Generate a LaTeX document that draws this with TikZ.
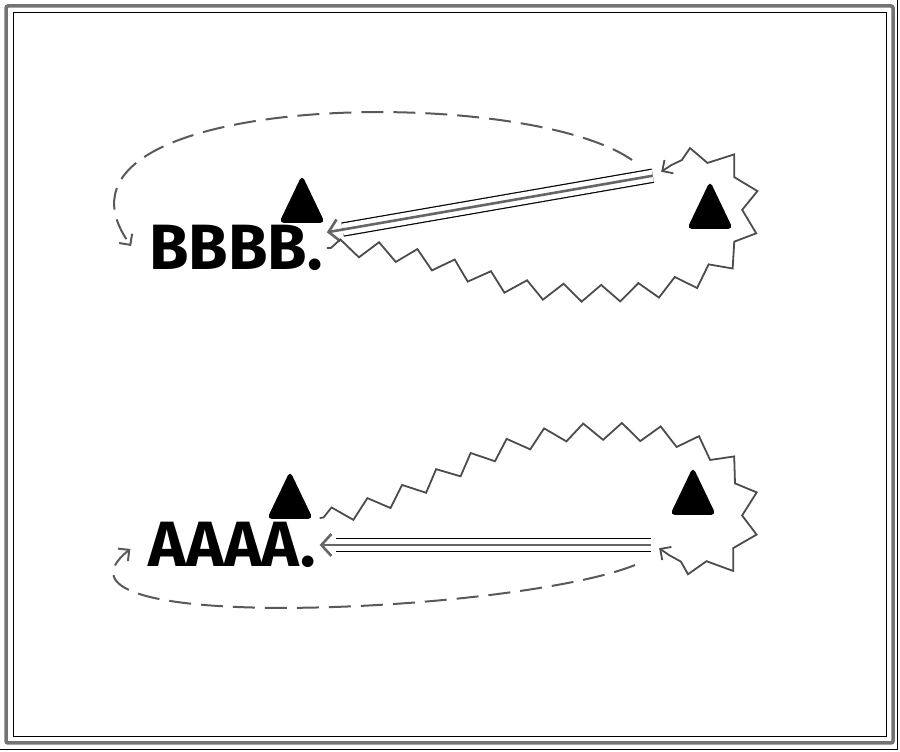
\documentclass[tikz,border=0pt]{standalone}
\usepackage{fontspec}
\setmainfont{Fira Sans}
\usetikzlibrary{decorations.pathmorphing,arrows.meta,calc}
\begin{document}
\begin{tikzpicture}[x=1pt,y=1pt,
  lbl/.style={font=\bfseries\fontsize{64}{64}\selectfont, inner sep=4pt},
  spot/.style={inner sep=4pt},
  tri/.style={fill=black, rounded corners=5pt},
  zz/.style={draw=black!70, line width=1.8pt, decorate,
    decoration={zigzag, segment length=38pt, amplitude=8.5pt, pre length=4pt, post length=12pt},
    -{Straight Barb[length=8pt,width=16pt]}},
  dsh/.style={draw=black!65, line width=2pt, dash pattern=on 22pt off 10pt,
    -{Straight Barb[length=8pt,width=16pt]}},
  mid/.style={draw=black!60, line width=2.6pt, -{Straight Barb[length=10pt,width=22pt]},
    preaction={draw=black, line width=1.2pt, double=white, double distance=12pt, arrows=-, shorten >=16pt}},
  frameout/.style={draw=black!55, line width=3.5pt, rounded corners=2pt},
  framein/.style={draw=black, line width=1pt}
]
\useasboundingbox (0,0) rectangle (900,752);
% frame
\draw[frameout] (6,746) rectangle (893,9);
\draw[framein] (13,739) rectangle (886,15);
\draw[framein, line width=0.8pt] (0,3) -- (897,3) -- (897,752);

% bottom group
\node[lbl] (A) at (232,207) {AAAA.};
\node[spot] (R) at (655,207) {};
\coordinate (tA) at (290,257);
\coordinate (tR) at (693,261);
\fill[tri] (tA) +(-23,-24) -- +(0,24) -- +(23,-24) -- cycle;
\fill[tri] (tR) +(-23,-24) -- +(0,24) -- +(23,-24) -- cycle;

\draw[mid] (R) -- (A);
\draw[zz] (A.north east) .. controls (420,250) and (460,300) .. (560,318)
  .. controls (680,330) and (750,300) .. (750,240)
  .. controls (750,185) and (710,165) .. (R);
\draw[dsh] ($(R.center)+(-20,-20)$) .. controls (520,140) and (20,115) .. ($(A.west)+(-14,-4)$);

% top group
\node[lbl] (B) at (236,504) {BBBB.};
\node[spot] (R2) at (657,577) {};
\coordinate (tB) at (302,553);
\coordinate (tR2) at (710,547);
\fill[tri] (tB) +(-23,-24) -- +(0,24) -- +(23,-24) -- cycle;
\fill[tri] (tR2) +(-23,-24) -- +(0,24) -- +(23,-24) -- cycle;

\draw[mid] (R2) -- (B);
\draw[zz] (B.east) .. controls (440,505) and (480,462) .. (560,460)
  .. controls (680,452) and (750,480) .. (750,540)
  .. controls (752,600) and (700,610) .. (R2);
\draw[dsh] ($(R2.center)+(-25,15)$) .. controls (520,670) and (20,660) .. ($(B.west)+(-14,2)$);
\end{tikzpicture}
\end{document}
